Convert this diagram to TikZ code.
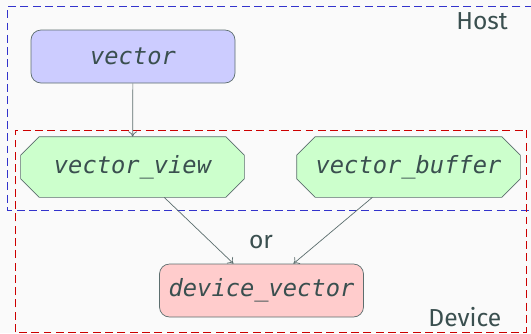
\documentclass[tikz,border=0pt]{standalone}
\usepackage{fontspec}
\setmainfont{Fira Sans}
\newfontfamily\codefont{DejaVu Sans Mono}
\usepackage{xcolor}
\usepackage{tikz}
\usetikzlibrary{positioning, arrows.meta, backgrounds}

\definecolor{bgcol}{HTML}{FAFAFA}
\definecolor{inkcol}{HTML}{3A4F4F}
\definecolor{edgecol}{HTML}{5C6E6E}
\definecolor{hostcol}{HTML}{3333CC}
\definecolor{devcol}{HTML}{CC0000}
\definecolor{vecfill}{HTML}{CCCCFF}
\definecolor{viewfill}{HTML}{CCFFCC}
\definecolor{devfill}{HTML}{FFCCCC}

\begin{document}
\begin{tikzpicture}[
        font=\fontsize{14}{16}\selectfont,
        text=inkcol,
        code/.style={font=\codefont\itshape\fontsize{13.5}{16}\selectfont},
        roundbox/.style={code, rounded corners=0.2cm, draw=edgecol, thin,
                         minimum width=4.08cm, minimum height=1.06cm},
        chambox/.style={code, minimum width=4.46cm, minimum height=1.2cm},
        region/.style={dash pattern=on 4.5pt off 2.5pt, thin},
        link/.style={draw=edgecol, thin, -{To[length=3pt,width=5pt]}}]
        \useasboundingbox (0,0) rectangle (10.62,-6.66);
        % memory spaces
        \draw[region, draw=hostcol] (10.9,-0.13) -- (0.15,-0.13) -- (0.15,-4.2) -- (10.9,-4.2);
        \draw[region, draw=devcol] (0.31,-6.64) rectangle (10.53,-2.6);
        \node[anchor=base east] (host) at (10.28,-0.58) {Host};
        \node[anchor=base east] (device) at (10.15,-6.53) {Device};
        % types
        \node[roundbox, fill=vecfill] (vec) at (2.66,-1.13) {vector};
        \node[chambox] (view) at (2.65,-3.34) {vector\_view};
        \node[chambox] (buffer) at (8.17,-3.34) {vector\_buffer};
        \node[roundbox, fill=devfill] (devvec) at (5.23,-5.81) {device\_vector};
        \node (or) at (5.22,-4.84) {or};
        % octagon outlines behind the view types
        \begin{scope}[on background layer]
          \fill[bgcol] (0,0) rectangle (10.62,-6.66);
          \foreach \n in {view, buffer}
            \draw[edgecol, thin, fill=viewfill]
              ([yshift=-0.37cm]\n.north west) -- ([xshift=0.37cm]\n.north west)
              -- ([xshift=-0.37cm]\n.north east) -- ([yshift=-0.37cm]\n.north east)
              -- ([yshift=0.37cm]\n.south east) -- ([xshift=-0.37cm]\n.south east)
              -- ([xshift=0.37cm]\n.south west) -- ([yshift=0.37cm]\n.south west) -- cycle;
        \end{scope}
        % conversions
        \draw[link] (vec) -- (view);
        \draw[link] (view) -- (devvec);
        \draw[link] (buffer) -- (devvec);
      \end{tikzpicture}
\end{document}
